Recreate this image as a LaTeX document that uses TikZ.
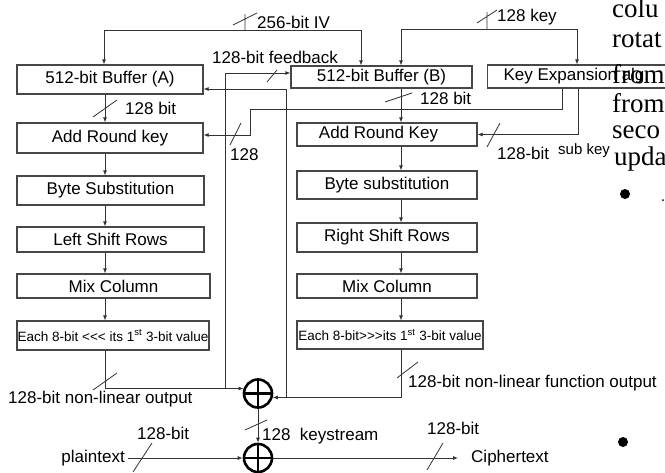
\documentclass[tikz,border=0pt]{standalone}
\usepackage{fontspec}
\setmainfont{Liberation Sans}
\newfontfamily\serifx{Liberation Serif}
\usetikzlibrary{arrows.meta,calc}
\begin{document}
\begin{tikzpicture}[x=1pt,y=-1pt,
  box/.style={draw=black!72, line width=1.3pt, inner sep=0pt, font=\fontsize{17}{20}\selectfont},
  lab/.style={inner sep=0pt, anchor=west, font=\fontsize{17}{20}\selectfont},
  tinytxt/.style={font=\fontsize{13.5}{16}\selectfont},
  conn/.style={draw=black!80, line width=0.8pt},
  arr/.style={conn, -{Latex[length=5pt,width=4pt]}},
  xor/.style={circle, draw=black, line width=2.6pt, minimum size=28pt, inner sep=0pt},
  xorbar/.style={draw=black, line width=2.2pt},
  page/.style={inner sep=0pt, anchor=base west, font=\serifx\fontsize{27}{30}\selectfont},
  dotmark/.style={circle, fill=black, inner sep=0pt, minimum size=10pt}
]
\fill[white] (0,0) rectangle (665,472);
\useasboundingbox (0,0) rectangle (665,472);
\clip (0,0) rectangle (665,472);

% ---------- left column ----------
\node[box, minimum width=186, minimum height=29] (bufA) at (110,79.5) {512-bit Buffer (A)};
\node[box, minimum width=186, minimum height=30] (arkA) at (110,138) {Add Round key};
\node[box, minimum width=187, minimum height=29] (bsA) at (110.5,190.5) {Byte Substitution};
\node[box, minimum width=187, minimum height=25] (lsrA) at (110.5,239.5) {Left Shift Rows};
\node[box, minimum width=193, minimum height=24] (mcA) at (113.5,286) {Mix Column};
\node[box, tinytxt, minimum width=192, minimum height=29] (eachA) at (113,335.5) {Each 8-bit <\kern0pt<\kern0pt< its 1\textsuperscript{st} 3-bit value};

% ---------- right column ----------
\node[box, minimum width=181, minimum height=22] (bufB) at (381.5,77) {512-bit Buffer (B)};
\node[box, minimum width=180, minimum height=23] (arkB) at (387,134.5) {Add Round Key\kern17pt};
\node[box, minimum width=180, minimum height=28] (bsB) at (387,185) {Byte substitution};
\node[box, minimum width=180, minimum height=29] (rsrB) at (387,237.5) {Right Shift Rows};
\node[box, minimum width=180, minimum height=24] (mcB) at (387,286) {Mix Column};
\node[box, tinytxt, minimum width=186, minimum height=28] (eachB) at (390,335) {Each 8-bit>\kern0pt>\kern0pt>its 1\textsuperscript{st} 3-bit value};
\node[box, anchor=west, minimum height=23] (keyexp) at (487,76.5) {\makebox[193pt][l]{\kern16pt Key Expansion alg.}};

% ---------- XOR ----------
\node[xor] (xor1) at (258,393.5) {};
\node[xor] (xor2) at (258,458) {};
\draw[xorbar] (xor1.north) -- (xor1.south) (xor1.west) -- (xor1.east);
\draw[xorbar] (xor2.north) -- (xor2.south) (xor2.west) -- (xor2.east);

% ---------- helper coordinates ----------
\coordinate (xa) at (105,0);
\coordinate (xb) at (401,0);
\coordinate (ivL) at (104,30);
\coordinate (ivR) at (361,30);
\coordinate (kL) at (401,29);
\coordinate (kR) at (577,29);
\coordinate (fA) at (225,0);
\coordinate (fbY) at (0,73);
\coordinate (fB) at (286,0);
\coordinate (fbY2) at (0,89);
\coordinate (ke1) at (562,0);
\coordinate (ke2) at (578,0);
\coordinate (y109) at (0,109);
\coordinate (y135) at (0,135);
\coordinate (x250) at (250,0);

% ---------- column arrows ----------
\foreach \u/\v in {bufA/arkA, arkA/bsA, bsA/lsrA, lsrA/mcA, mcA/eachA}
  \draw[arr] (xa |- \u.south) -- (xa |- \v.north);
\foreach \u/\v in {bufB/arkB, arkB/bsB, bsB/rsrB, rsrB/mcB, mcB/eachB}
  \draw[arr] (xb |- \u.south) -- (xb |- \v.north);

% ---------- IV and key inputs ----------
\draw[arr] (ivR) -- (ivL) -- (ivL |- bufA.north);
\draw[arr] (ivR) -- (ivR |- bufB.north);
\draw[conn] (233,25) -- (257,13) (245,14) -- (245,30);
\draw[arr] (kL) -- (kR) -- (kR |- keyexp.north);
\draw[arr] (kL) -- (kL |- bufB.north);
\draw[conn] (477,23) -- (497,10) (487,12) -- (487,29);

% ---------- sub keys ----------
\draw[arr] (ke1 |- keyexp.south) -- (ke1 |- y109) -- (x250 |- y109) -- (x250 |- y135) -- (arkA.east |- y135);
\draw[conn] (230,145) -- (241,123);
\draw[arr] (ke2 |- keyexp.south) -- (ke2 |- arkB.east) -- (arkB.east);
\draw[conn] (487,147) -- (500,123);

% ---------- 128 bit slashes under buffers ----------
\draw[conn] (93,117) -- (117,100);
\draw[conn] (385,102) -- (412,93);

% ---------- outputs, feedback ----------
\draw[arr] (xa |- eachA.south) -- (xa |- xor1.161) -- (xor1.161);
\draw[conn] (93,390) -- (117,373);
\draw[arr] (fA |- xor1.161) -- (fA |- fbY) -- (bufB.west |- fbY);
\draw[conn] (267,82) -- (277,70);

\draw[arr] (xb |- eachB.south) -- (xb |- xor1.345) -- (xor1.345);
\draw[conn] (397,378) -- (418,362);
\draw[arr] (fB |- xor1.345) -- (fB |- fbY2) -- (bufA.east |- fbY2);

% ---------- keystream, plaintext, ciphertext ----------
\draw[arr] (xor1.south) -- (xor2.north);
\draw[conn] (245,430) -- (267,420);
\node[inner sep=0pt, anchor=east, inner xsep=3pt, font=\fontsize{17}{20}\selectfont] (plain) at (128,458) {plaintext};
\draw[arr] (plain.east) -- (xor2.west);
\draw[conn] (133,472) -- (152,443);
\node[inner sep=0pt, anchor=west, inner xsep=13pt, font=\fontsize{17}{20}\selectfont] (cipher) at (458,458) {Ciphertext};
\draw[arr] (xor2.east) -- (cipher.west);
\draw[conn] (427,470) -- (443,443);

% ---------- labels ----------
\node[lab] (ivlab) at (257,22) {256-bit IV};
\node[lab] (keylab) at (497,17) {128 key};
\node[lab] (fblab) at (212,57) {128-bit feedback};
\node[lab] (bitA) at (125,108) {128 bit};
\node[lab] (bitB) at (420,98) {128 bit};
\node[lab] (k128) at (230,155) {128};
\node[lab] (sub1) at (497,153) {128-bit};
\node[lab, font=\fontsize{15}{17}\selectfont] (sub2) at (558,151) {sub key};
\node[lab] (nlA) at (8,399) {128-bit non-linear output};
\node[lab] (nlB) at (408,383) {128-bit non-linear function output};
\node[lab] (ks) at (262,436) {128\ \ keystream};
\node[lab] (pb) at (137,433) {128-bit};
\node[lab] (cb) at (427,428) {128-bit};

% ---------- page text fragments ----------
\node[page] (p1) at (612,17) {colu};
\node[page] (p2) at (612,47) {rotat};
\node[page] (p3) at (612,83) {from};
\node[page] (p4) at (612,112) {from};
\node[page] (p5) at (612,138) {seco};
\node[page] (p6) at (614,165) {upda};
\node[dotmark] (b1) at (625,194) {};
\node[dotmark] (b2) at (623,442) {};
\node[circle, fill=black, inner sep=0pt, minimum size=2pt] (b3) at (663,200) {};
\end{tikzpicture}
\end{document}
